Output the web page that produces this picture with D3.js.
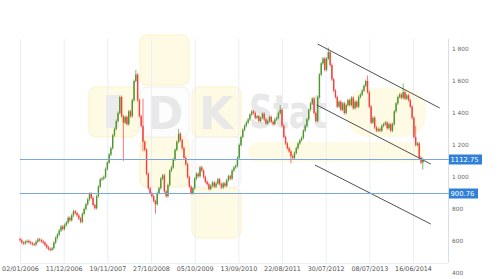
<!DOCTYPE html>
<html>
<head>
<meta charset="utf-8">
<script src="https://cdn.jsdelivr.net/npm/d3@7/dist/d3.min.js"></script>
<style>
  body { margin: 0; background: #fff; }
  svg { display: block; font-family: "DejaVu Sans", Verdana, sans-serif; }
</style>
</head>
<body>
<div id="chart"></div>
<script>
// x tick labels, one every 49 weeks starting at week 0
var tickLabels = ["02/01/2006", "11/12/2006", "19/11/2007", "27/10/2008", "05/10/2009",
                  "13/09/2010", "22/08/2011", "30/07/2012", "08/07/2013", "16/06/2014"];
var yTicks = [400, 600, 800, 1000, 1200, 1400, 1600, 1800];

// closes, one candle every 2 weeks (open = previous close)
var firstOpen = 612;
var closes = [
  605, 590, 585, 595, 600, 592, 585, 580, 578, 595, 610, 605, 598, 590, 575, 560, 550, 545,
  555, 590, 620, 640, 665, 690, 675, 700, 715, 745, 730, 760, 785,
  775, 760, 740, 720, 770, 800, 830, 860, 895, 870, 825, 805, 880, 940, 985,
  990, 1000, 1050, 1090, 1140, 1180, 1260, 1300, 1350, 1400,
  1500, 1380, 1340, 1375, 1330, 1410, 1380, 1480, 1600, 1640, 1480, 1380, 1320, 1220, 1170,
  1020, 930, 900, 880, 850, 830, 900, 930, 990, 1010, 910, 880, 950, 1040, 1060,
  1110, 1170, 1220, 1270, 1230, 1180, 1120, 1080, 1000, 940, 900, 930, 990, 1020, 1005, 1060, 1040, 1000, 970, 955,
  925, 945, 965, 940, 960, 985, 955, 935, 960, 945, 980, 1005, 990, 1040, 1060, 1070, 1120, 1200, 1250, 1295,
  1320, 1340, 1360, 1390, 1410, 1400, 1370, 1380, 1350, 1370, 1395, 1360, 1335, 1350, 1375, 1345, 1330, 1360, 1370, 1400,
  1420, 1320, 1250, 1210, 1180, 1160, 1130, 1120, 1150, 1180, 1210, 1230, 1245, 1290, 1320,
  1360, 1420, 1460, 1490, 1400, 1350, 1500, 1640, 1710, 1740, 1670, 1740, 1780, 1700, 1610,
  1540, 1500, 1440, 1470, 1420, 1460, 1400, 1450, 1480, 1450, 1495, 1430, 1470, 1440, 1500, 1515, 1540, 1570, 1600, 1530,
  1440, 1340, 1370, 1310, 1290, 1300, 1290, 1320, 1330, 1340, 1305, 1330, 1290, 1330, 1410,
  1460, 1500, 1515, 1495, 1530, 1490, 1510, 1480, 1440, 1370, 1250, 1200, 1210, 1120, 1090, 1112.75
];

// long wicks: [candle index, high, low]
var wicks = [
  [58, 1380, 1110], [65, 1660, 1600], [69, 1480, 1170], [76, 850, 780], [89, 1290, 1220],
  [146, 1440, 1400], [152, 1160, 1095], [173, 1800, 1740], [195, 1625, 1530],
  [215, 1575, 1495], [222, 1310, 1200], [226, 1112.75, 1056]
];

// trend channel: [week, value] pairs
var trendLines = [
  [[334, 1831], [471, 1431]],
  [[333, 1450], [461, 1081]],
  [[331, 1075], [461, 706]]
];

var levels = [1112.75, 900.76];

var width = 500, height = 279;
var plotTop = 39, plotBottom = 263, plotLeft = 20, plotRight = 448;

var svg = d3.select('#chart').append('svg')
    .attr('width', width)
    .attr('height', height);

var x = d3.scaleLinear().domain([0, 441]).range([20, 413]);
var y = d3.scaleLinear().domain([400, 1800]).range([273, 49]);

// watermark
var wm = svg.append('g');
var yellow = '#fffae3', yellowStroke = '#fdf1c6';
[[140, 35], [89, 87], [192, 87], [140, 137], [192, 188]].forEach(function(p) {
    wm.append('rect').attr('x', p[0]).attr('y', p[1]).attr('width', 49).attr('height', 50)
        .attr('rx', 7).attr('fill', yellow).attr('stroke', yellowStroke);
});
[[140, 87], [192, 137]].forEach(function(p) {
    wm.append('rect').attr('x', p[0]).attr('y', p[1]).attr('width', 49).attr('height', 50)
        .attr('rx', 7).attr('fill', '#fdfdfd').attr('stroke', '#f0f0f0');
});
wm.append('rect').attr('x', 248).attr('y', 142).attr('width', 176).attr('height', 20)
    .attr('rx', 10).attr('fill', yellow);
wm.append('rect').attr('x', 346).attr('y', 88).attr('width', 80).attr('height', 49)
    .attr('rx', 22).attr('fill', yellow);
wm.append('rect').attr('x', 106).attr('y', 95).attr('width', 13).attr('height', 33)
    .attr('fill', '#ebebeb');
wm.append('text').attr('x', 165).attr('y', 129).attr('text-anchor', 'middle')
    .style('font-size', '44px').style('font-weight', 'bold').style('fill', '#e8e8e8').text('D');
wm.append('text').attr('x', 216).attr('y', 129).attr('text-anchor', 'middle')
    .style('font-size', '44px').style('font-weight', 'bold').style('fill', '#e8e8e8').text('K');
wm.append('text').attr('x', 249).attr('y', 128)
    .attr('textLength', 78).attr('lengthAdjust', 'spacingAndGlyphs')
    .style('font-size', '47px').style('font-weight', 'bold').style('fill', '#e8e8e8').text('Stat');

// grid
var tickWeeks = tickLabels.map(function(d, i) { return i * 49; });
svg.append('g').selectAll('line')
    .data(tickWeeks)
    .enter().append('line')
    .attr('x1', function(d) { return x(d) + 0.5; })
    .attr('x2', function(d) { return x(d) + 0.5; })
    .attr('y1', plotTop).attr('y2', plotBottom)
    .attr('stroke', '#e7eff8');

svg.append('line').attr('x1', plotRight + 0.5).attr('x2', plotRight + 0.5)
    .attr('y1', plotTop).attr('y2', plotBottom).attr('stroke', '#d3e0ee');
svg.append('line').attr('x1', plotLeft).attr('x2', plotRight)
    .attr('y1', plotBottom + 0.5).attr('y2', plotBottom + 0.5).attr('stroke', '#e7eff8');

// build candles
var candles = closes.map(function(c, i) {
    var o = i === 0 ? firstOpen : closes[i - 1];
    return { i: i, open: o, close: c, high: Math.max(o, c), low: Math.min(o, c) };
});
wicks.forEach(function(w) {
    candles[w[0]].high = Math.max(candles[w[0]].high, w[1]);
    candles[w[0]].low = Math.min(candles[w[0]].low, w[2]);
});

var up = '#4f962f', down = '#f2413b';
var cg = svg.append('g');
// wicks poke a pixel or two past the body
cg.selectAll('.wick')
    .data(candles)
    .enter().append('line')
    .attr('class', 'wick')
    .attr('x1', function(d) { return x(d.i * 2); })
    .attr('x2', function(d) { return x(d.i * 2); })
    .attr('y1', function(d) { return y(d.high) - 1.5; })
    .attr('y2', function(d) { return y(d.low) + 1.5; })
    .attr('stroke', function(d) { return d.close >= d.open ? up : down; })
    .attr('stroke-width', 0.7);

cg.selectAll('.body')
    .data(candles)
    .enter().append('rect')
    .attr('class', 'body')
    .attr('x', function(d) { return x(d.i * 2) - 0.7; })
    .attr('width', 1.4)
    .attr('y', function(d) { return y(Math.max(d.open, d.close)); })
    .attr('height', function(d) { return Math.max(1, Math.abs(y(d.open) - y(d.close))); })
    .attr('fill', function(d) { return d.close >= d.open ? up : down; });

// trend channel
svg.append('g').selectAll('line')
    .data(trendLines)
    .enter().append('line')
    .attr('x1', function(d) { return x(d[0][0]); })
    .attr('y1', function(d) { return y(d[0][1]); })
    .attr('x2', function(d) { return x(d[1][0]); })
    .attr('y2', function(d) { return y(d[1][1]); })
    .attr('stroke', '#3c3c3c')
    .attr('stroke-width', 0.9);

// level lines with value tags
var lv = svg.append('g').selectAll('g')
    .data(levels)
    .enter().append('g');
lv.append('line')
    .attr('x1', plotLeft).attr('x2', plotRight + 1)
    .attr('y1', function(d) { return Math.round(y(d)) + 0.5; })
    .attr('y2', function(d) { return Math.round(y(d)) + 0.5; })
    .attr('stroke', '#7aa8de');
lv.append('rect')
    .attr('x', plotRight + 1)
    .attr('y', function(d) { return Math.round(y(d)) - 4.5; })
    .attr('width', function(d) { return d >= 1000 ? 33 : 29; })
    .attr('height', 10)
    .attr('fill', '#2f80d8');
lv.append('text')
    .attr('x', plotRight + 2.5)
    .attr('y', function(d) { return Math.round(y(d)) + 0.5; })
    .attr('dy', '0.35em')
    .style('font-size', '6.8px')
    .style('fill', '#fff')
    .text(function(d) { return d3.format('.2f')(d); });

// axes
var yAxis = d3.axisRight(y)
    .tickValues(yTicks)
    .tickSize(0)
    .tickPadding(4)
    .tickFormat(function(d) { return d3.format(',')(d).replace(',', ' '); });
var ya = svg.append('g')
    .attr('transform', 'translate(' + plotRight + ',0)')
    .call(yAxis);
ya.select('.domain').remove();
ya.selectAll('text').style('font-size', '5.8px').style('fill', '#666').style('font-family', '"DejaVu Sans", sans-serif');

var xAxis = d3.axisBottom(x)
    .tickValues(tickWeeks)
    .tickSize(0)
    .tickPadding(3)
    .tickFormat(function(d, i) { return tickLabels[i]; });
var xa = svg.append('g')
    .attr('transform', 'translate(0,' + plotBottom + ')')
    .call(xAxis);
xa.select('.domain').remove();
xa.selectAll('text').style('font-size', '6.4px').style('fill', '#555').style('font-family', '"DejaVu Sans", sans-serif');
</script>
</body>
</html>
